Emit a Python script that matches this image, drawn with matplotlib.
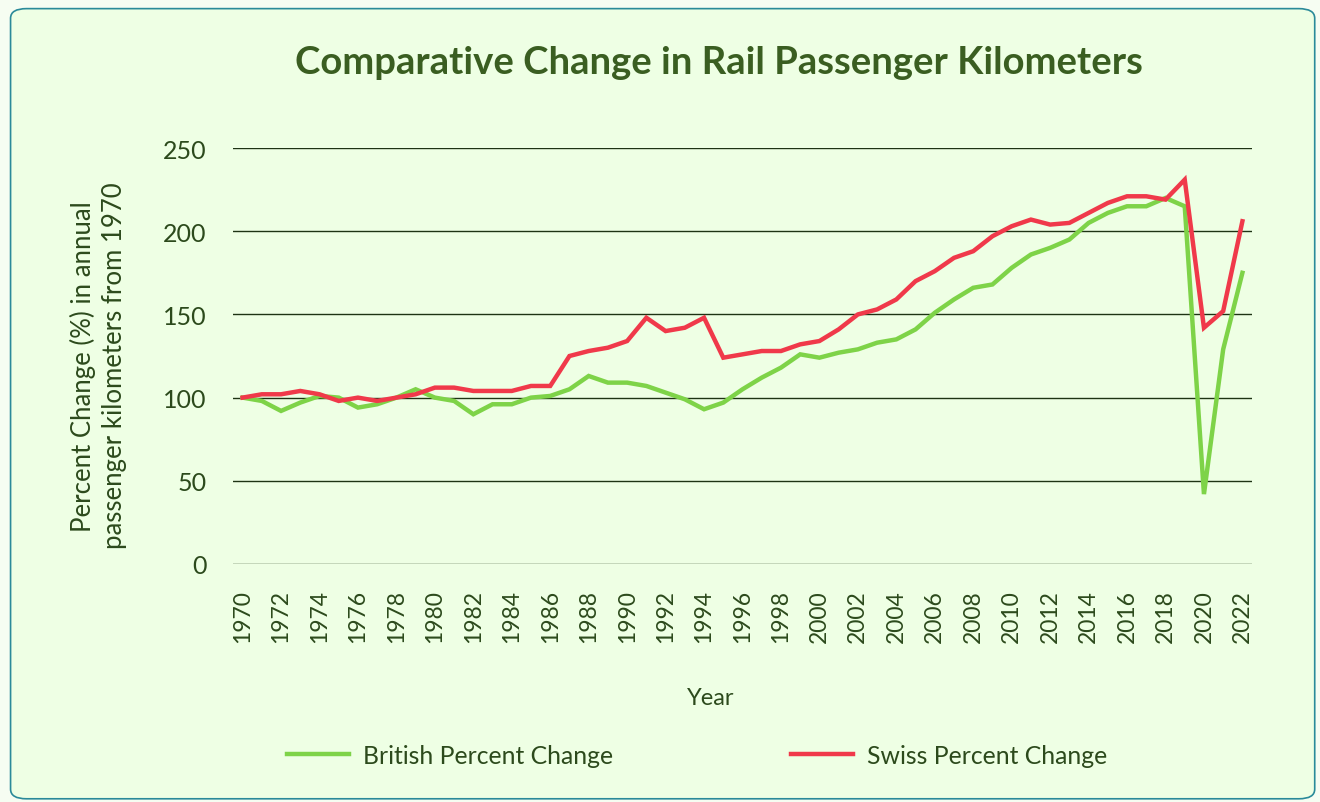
import numpy as np
import matplotlib.pyplot as plt
from matplotlib.patches import FancyBboxPatch
from matplotlib.lines import Line2D

years = list(range(1970, 2023))
british = [100, 98, 92, 97, 101, 100, 94, 96, 100, 105,
           100, 98, 90, 96, 96, 100, 101, 105, 113, 109,
           109, 107, 103, 99, 93, 97, 105, 112, 118, 126,
           124, 127, 129, 133, 135, 141, 151, 159, 166, 168,
           178, 186, 190, 195, 205, 211, 215, 215, 220, 215,
           42, 129, 175]
swiss = [100, 102, 102, 104, 102, 98, 100, 98, 100, 102,
         106, 106, 104, 104, 104, 107, 107, 125, 128, 130,
         134, 148, 140, 142, 148, 124, 126, 128, 128, 132,
         134, 141, 150, 153, 159, 170, 176, 184, 188, 197,
         203, 207, 204, 205, 211, 217, 221, 221, 219, 231,
         142, 152, 206]
tick_years = list(range(1970, 2023, 2))
y_ticks = [0, 50, 100, 150, 200, 250]

bg = '#eeffe4'
txt = '#2c4a1c'
plt.rcParams['font.family'] = ['Lato', 'DejaVu Sans']

fig = plt.figure(figsize=(13.2, 8.03), dpi=100)
fig.patch.set_facecolor('#f6fdf2')
# rounded card behind the chart
card = FancyBboxPatch((0.008, 0.004), 0.988, 0.984, boxstyle='round,pad=0,rounding_size=0.012',
                      transform=fig.transFigure, facecolor=bg, edgecolor='#2a8a99', linewidth=1.2,
                      zorder=-10)
fig.patches.append(card)

ax = fig.add_axes([0.1765, 0.2964, 0.772, 0.518])
ax.set_zorder(1)
ax.set_facecolor('none')
ax.plot(years, british, color='#7ed348', linewidth=3.2, solid_joinstyle='miter', zorder=3)
ax.plot(years, swiss, color='#f0394a', linewidth=3.2, solid_joinstyle='miter', zorder=3)

ax.set_xlim(1969.5, 2022.5)
ax.set_ylim(0, 250)
ax.set_yticks(y_ticks)
ax.set_xticks(tick_years)
ax.set_xticklabels([str(y) for y in tick_years], rotation=90)
ax.grid(axis='y', color='#1e3314', linewidth=1)
ax.set_axisbelow(True)
for s in ax.spines.values():
    s.set_visible(False)
ax.tick_params(length=0, colors=txt)
ax.tick_params(axis='x', labelsize=16.5, pad=18)
ax.tick_params(axis='y', labelsize=18, pad=19)

ax.set_ylabel('Percent Change (%) in annual\npassenger kilometers from 1970',
              fontsize=18.5, color=txt, linespacing=1.3)
ax.yaxis.set_label_coords(-0.104, 0.478)
ax.set_xlabel('Year', fontsize=17, color=txt)
ax.xaxis.set_label_coords(0.469, -0.296)

fig.text(0.545, 0.921, 'Comparative Change in Rail Passenger Kilometers', ha='center', va='center',
         fontsize=27.5, fontweight='bold', color='#3a5e21')

handles = [Line2D([], [], color='#7ed348', linewidth=3.2),
           Line2D([], [], color='#f0394a', linewidth=3.2)]
fig.legend(handles, ['British Percent Change', 'Swiss Percent Change'], loc='center',
           bbox_to_anchor=(0.528, 0.0585), ncol=2, frameon=False, fontsize=17.8,
           labelcolor=txt, handlelength=2.5, columnspacing=7.2, handletextpad=0.57)

fig.savefig('out.png', dpi=100, facecolor=fig.get_facecolor())
